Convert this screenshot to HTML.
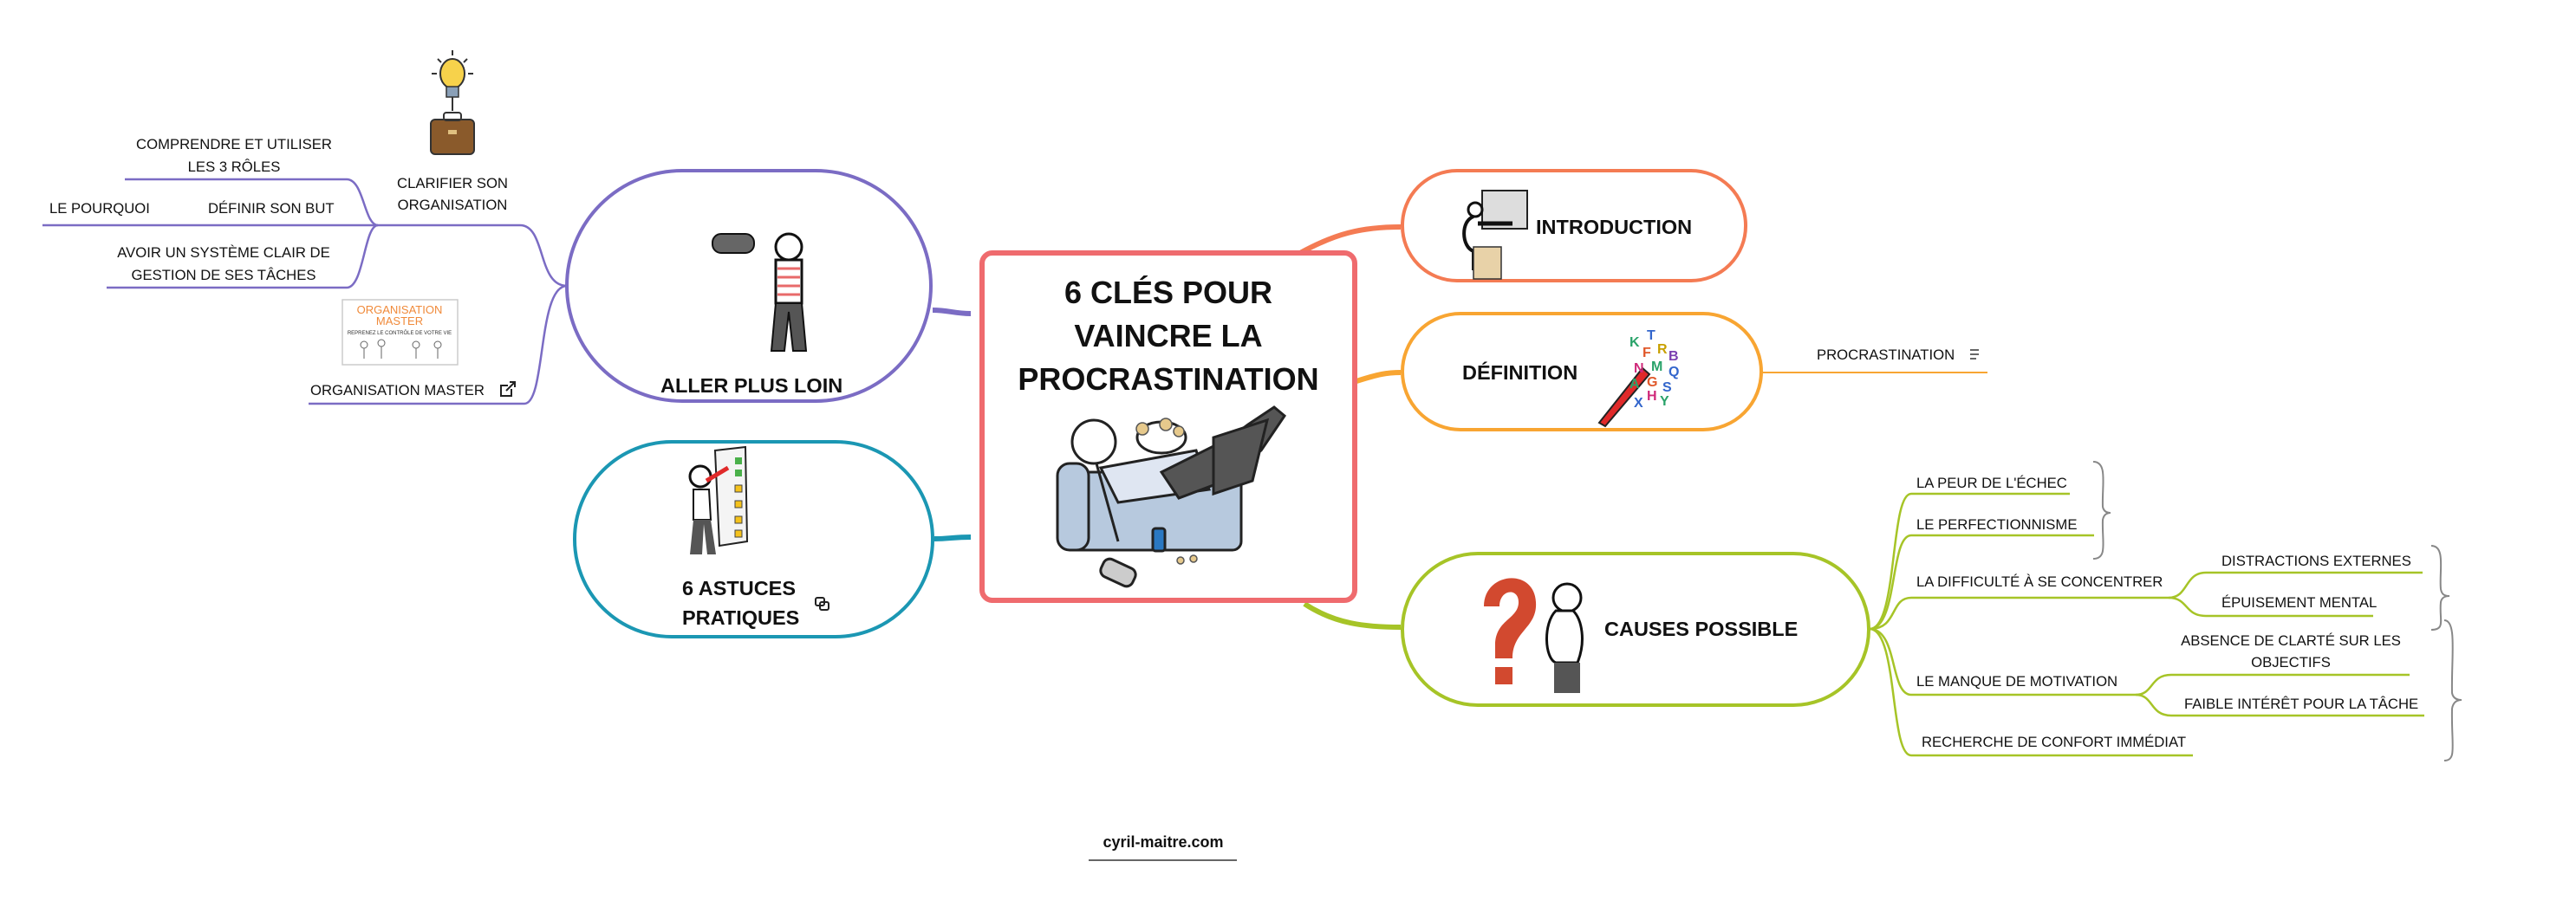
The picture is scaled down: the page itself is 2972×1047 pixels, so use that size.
<!DOCTYPE html>
<html><head><meta charset="utf-8"><style>
html,body{margin:0;padding:0;background:#fff;}
svg{display:block;}
text{font-family:"Liberation Sans",sans-serif;fill:#111;}
.b{font-size:16.7px;}
.n{font-size:23.5px;font-weight:bold;}
</style></head><body>
<svg width="2972" height="1047" viewBox="0 0 2972 1047" xmlns="http://www.w3.org/2000/svg">
<path d="M1120,362 C1100,362 1095,358 1076,358" stroke="#7b6cc4" stroke-width="6" fill="none"/>
<path d="M1120,620 C1100,620 1095,622 1078,622" stroke="#1b97b3" stroke-width="6" fill="none"/>
<path d="M1500,292 C1540,270 1570,262 1616,262" stroke="#f47b53" stroke-width="6" fill="none"/>
<path d="M1565,440 C1590,432 1600,430 1616,430" stroke="#f8a532" stroke-width="6" fill="none"/>
<path d="M1505,697 C1540,720 1575,724 1616,724" stroke="#a6c427" stroke-width="6" fill="none"/>

<rect x="1133" y="292" width="430" height="401" rx="12" fill="#fff" stroke="#ef6b6e" stroke-width="6"/>
<text x="1348" y="350" class="n" text-anchor="middle" style="font-size:36px">6 CLÉS POUR</text>
<text x="1348" y="400" class="n" text-anchor="middle" style="font-size:36px">VAINCRE LA</text>
<text x="1348" y="450" class="n" text-anchor="middle" style="font-size:36px">PROCRASTINATION</text>
<g stroke="#222" stroke-width="3">
<rect x="1232" y="545" width="200" height="90" rx="10" fill="#b7c9de"/>
<rect x="1220" y="535" width="36" height="100" rx="14" fill="#b7c9de"/>
<path d="M1270,540 L1380,520 L1395,565 L1290,580 Z" fill="#dfe6f2"/>
<path d="M1340,545 L1420,505 L1440,490 L1470,470 L1482,480 L1455,520 L1400,560 L1360,575 Z" fill="#555"/>
<path d="M1400,505 L1462,485 L1445,555 L1400,570 Z" fill="#555"/>
<circle cx="1262" cy="510" r="25" fill="#fff"/>
<ellipse cx="1340" cy="505" rx="28" ry="18" fill="#fff"/>
<rect x="1330" y="610" width="14" height="26" rx="3" fill="#2a78c2"/>
<rect x="1270" y="650" width="40" height="22" rx="8" fill="#ccc" transform="rotate(25 1290 661)"/>
<path d="M1265,535 L1290,625" fill="none"/>
</g>
<g fill="#e6c98c" stroke="#555" stroke-width="1.5"><circle cx="1318" cy="495" r="7"/><circle cx="1345" cy="490" r="7"/><circle cx="1360" cy="498" r="6"/><circle cx="1362" cy="647" r="4"/><circle cx="1377" cy="645" r="4"/></g>

<rect x="1618" y="197" width="396" height="127" rx="63" fill="#fff" stroke="#f47b53" stroke-width="4"/>
<rect x="1710" y="220" width="52" height="44" fill="#ddd" stroke="#222" stroke-width="2"/>
<circle cx="1702" cy="242" r="8" fill="#fff" stroke="#111" stroke-width="3"/>
<path d="M1700,250 C1685,255 1686,285 1700,290 L1700,312" stroke="#111" stroke-width="4" fill="none"/>
<path d="M1705,258 L1745,258" stroke="#111" stroke-width="5"/>
<rect x="1700" y="285" width="32" height="37" fill="#e8d2a8" stroke="#333" stroke-width="1.5"/>
<text x="1772" y="270" class="n">INTRODUCTION</text>

<rect x="1618" y="362" width="414" height="134" rx="67" fill="#fff" stroke="#f8a532" stroke-width="4"/>
<text x="1687" y="438" class="n">DÉFINITION</text>
<path d="M1845,488 L1895,425 L1903,432 L1852,492 Z" fill="#e02a2a" stroke="#222" stroke-width="2"/>
<g font-weight="bold" font-size="16">
<text x="1880" y="400" style="fill:#2aa36a">K</text><text x="1900" y="392" style="fill:#3366cc">T</text><text x="1895" y="412" style="fill:#e0582a">F</text><text x="1912" y="408" style="fill:#c8a000">R</text><text x="1925" y="416" style="fill:#7a3fb0">B</text><text x="1885" y="430" style="fill:#d02a7a">N</text><text x="1905" y="428" style="fill:#2aa36a">M</text><text x="1925" y="434" style="fill:#3366cc">Q</text><text x="1880" y="448" style="fill:#2aa36a">A</text><text x="1900" y="446" style="fill:#e0582a">G</text><text x="1918" y="452" style="fill:#3366cc">S</text><text x="1900" y="462" style="fill:#d02a7a">H</text><text x="1915" y="468" style="fill:#2aa36a">Y</text><text x="1885" y="470" style="fill:#3366cc">X</text>
</g>
<path d="M2032,430 H2293" stroke="#f8a532" stroke-width="2" fill="none"/>
<text x="2096" y="415" class="b">PROCRASTINATION</text>
<path d="M2273,404 h10 M2273,409 h10 M2273,414 h7" stroke="#333" stroke-width="1.5"/>

<rect x="1618" y="639" width="538" height="175" rx="87" fill="#fff" stroke="#a6c427" stroke-width="4"/>
<path d="M1712,700 C1712,660 1770,655 1772,695 C1774,725 1745,728 1745,760 L1725,760 L1725,745 C1725,715 1752,715 1752,695 C1752,678 1730,680 1730,700 Z" fill="#d2492f"/>
<rect x="1725" y="770" width="20" height="20" fill="#d2492f"/>
<circle cx="1808" cy="690" r="16" fill="#fff" stroke="#111" stroke-width="3"/>
<path d="M1795,705 C1780,720 1782,760 1795,765 L1820,765 C1830,740 1825,715 1815,705 Z" fill="#fff" stroke="#111" stroke-width="3"/>
<rect x="1793" y="765" width="30" height="35" fill="#555"/>
<text x="1851" y="734" class="n">CAUSES POSSIBLE</text>

<g stroke="#a6c427" stroke-width="2.5" fill="none">
<path d="M2157,726 C2190,726 2180,570 2205,570 H2388"/>
<path d="M2157,726 C2190,726 2180,618 2205,618 H2416"/>
<path d="M2157,726 C2190,726 2180,690 2205,690 H2502"/>
<path d="M2157,726 C2190,726 2180,802 2205,802 H2464"/>
<path d="M2157,726 C2190,726 2180,872 2205,872 H2530"/>
<path d="M2502,690 C2525,690 2520,661 2545,661 H2795"/>
<path d="M2502,690 C2525,690 2520,711 2545,711 H2738"/>
<path d="M2464,802 C2485,802 2480,779 2505,779 H2780"/>
<path d="M2464,802 C2485,802 2480,826 2505,826 H2797"/>
</g>
<text x="2211" y="563" class="b">LA PEUR DE L'ÉCHEC</text>
<text x="2211" y="611" class="b">LE PERFECTIONNISME</text>
<text x="2211" y="677" class="b">LA DIFFICULTÉ À SE CONCENTRER</text>
<text x="2563" y="653" class="b">DISTRACTIONS EXTERNES</text>
<text x="2563" y="701" class="b">ÉPUISEMENT MENTAL</text>
<text x="2211" y="792" class="b">LE MANQUE DE MOTIVATION</text>
<text x="2643" y="745" class="b" text-anchor="middle">ABSENCE DE CLARTÉ SUR LES</text>
<text x="2643" y="770" class="b" text-anchor="middle">OBJECTIFS</text>
<text x="2520" y="818" class="b">FAIBLE INTÉRÊT POUR LA TÂCHE</text>
<text x="2217" y="862" class="b">RECHERCHE DE CONFORT IMMÉDIAT</text>
<g stroke="#888" stroke-width="2" fill="none">
<path d="M2415,533 C2432,533 2425,560 2426,585 C2427,590 2430,592 2435,592 C2430,592 2427,595 2426,600 C2425,625 2432,645 2415,645"/>
<path d="M2805,630 C2822,630 2814,660 2816,680 C2817,686 2820,688 2826,688 C2820,688 2817,690 2816,695 C2814,715 2822,727 2805,727"/>
<path d="M2820,716 C2835,716 2828,760 2829,800 C2830,805 2833,808 2840,808 C2833,808 2830,812 2829,818 C2828,860 2835,878 2820,878"/>
</g>

<rect x="654" y="197" width="420" height="266" rx="133" fill="#fff" stroke="#7b6cc4" stroke-width="4"/>
<circle cx="910" cy="285" r="15" fill="#fff" stroke="#111" stroke-width="3"/>
<rect x="822" y="270" width="48" height="22" rx="10" fill="#666" stroke="#111" stroke-width="2"/>
<path d="M895,300 L925,300 L925,350 L895,350 Z" fill="#fff" stroke="#111" stroke-width="3"/>
<g stroke="#e86a6a" stroke-width="3"><path d="M897,310h26M897,320h26M897,330h26M897,340h26"/></g>
<path d="M895,350 L890,405 L905,405 L910,360 L915,405 L930,405 L925,350 Z" fill="#555" stroke="#111" stroke-width="2"/>
<text x="762" y="453" class="n">ALLER PLUS LOIN</text>

<rect x="663" y="510" width="413" height="225" rx="112" fill="#fff" stroke="#1b97b3" stroke-width="4"/>
<path d="M825,520 L860,516 L862,625 L830,630 Z" fill="#f4f4f4" stroke="#222" stroke-width="2"/>
<g fill="#f5c21b" stroke="#444" stroke-width="1"><rect x="848" y="560" width="8" height="8"/><rect x="848" y="578" width="8" height="8"/><rect x="848" y="596" width="8" height="8"/><rect x="848" y="612" width="8" height="8"/></g>
<rect x="848" y="528" width="8" height="8" fill="#4ab04a"/><rect x="848" y="542" width="8" height="8" fill="#4ab04a"/>
<circle cx="808" cy="550" r="12" fill="#fff" stroke="#111" stroke-width="3"/>
<path d="M800,565 L818,565 L820,600 L800,600 Z" fill="#fff" stroke="#111" stroke-width="2"/>
<path d="M800,600 L796,640 L810,640 L812,605 L816,640 L826,640 L820,600 Z" fill="#555"/>
<path d="M815,555 L840,540" stroke="#e02a2a" stroke-width="5"/>
<text x="787" y="687" class="n">6 ASTUCES</text>
<text x="787" y="721" class="n">PRATIQUES</text>
<g stroke="#222" stroke-width="2" fill="none"><rect x="941" y="690" width="10" height="9" rx="2"/><rect x="946" y="695" width="10" height="9" rx="2"/></g>

<g stroke="#7b6cc4" stroke-width="2.5" fill="none">
<path d="M654,330 C620,330 630,260 600,260 H436"/>
<path d="M654,330 C620,330 630,466 605,466 H356"/>
<path d="M436,260 C420,260 420,207 400,207 H144"/>
<path d="M436,260 H49"/>
<path d="M436,260 C420,260 420,332 400,332 H123"/>
</g>
<text x="522" y="217" class="b" text-anchor="middle">CLARIFIER SON</text>
<text x="522" y="242" class="b" text-anchor="middle">ORGANISATION</text>
<text x="270" y="172" class="b" text-anchor="middle">COMPRENDRE ET UTILISER</text>
<text x="270" y="198" class="b" text-anchor="middle">LES 3 RÔLES</text>
<text x="240" y="246" class="b">DÉFINIR SON BUT</text>
<text x="57" y="246" class="b">LE POURQUOI</text>
<text x="258" y="297" class="b" text-anchor="middle">AVOIR UN SYSTÈME CLAIR DE</text>
<text x="258" y="323" class="b" text-anchor="middle">GESTION DE SES TÂCHES</text>
<text x="358" y="456" class="b">ORGANISATION MASTER</text>
<g stroke="#222" stroke-width="2" fill="none"><path d="M586,445 h-8 v12 h12 v-8"/><path d="M584,451 L594,441 M588,441 h6 v6"/></g>
<ellipse cx="522" cy="85" rx="14" ry="17" fill="#f7d24b" stroke="#333" stroke-width="2"/>
<rect x="515" y="100" width="14" height="12" fill="#8aa0b8" stroke="#333" stroke-width="1.5"/>
<path d="M522,112 V128" stroke="#333" stroke-width="2"/>
<g stroke="#333" stroke-width="2"><path d="M522,58v6M505,68l4,4M539,68l-4,4M498,85h6M540,85h6"/></g>
<rect x="497" y="138" width="50" height="40" rx="5" fill="#8a5a2b" stroke="#333" stroke-width="2"/>
<rect x="512" y="130" width="20" height="9" rx="3" fill="none" stroke="#333" stroke-width="2"/>
<rect x="517" y="150" width="10" height="5" fill="#e0c080"/>
<rect x="395" y="346" width="133" height="75" fill="#fff" stroke="#ccc" stroke-width="1.5"/>
<text x="461" y="362" text-anchor="middle" style="font-size:13px;fill:#f08a3a">ORGANISATION</text>
<text x="461" y="375" text-anchor="middle" style="font-size:13px;fill:#f08a3a">MASTER</text>
<text x="461" y="386" text-anchor="middle" style="font-size:6px;fill:#333">REPRENEZ LE CONTRÔLE DE VOTRE VIE</text>
<g stroke="#666" stroke-width="1" fill="none"><circle cx="420" cy="398" r="4"/><circle cx="440" cy="396" r="4"/><circle cx="480" cy="398" r="4"/><circle cx="505" cy="398" r="4"/><path d="M420,402v12M440,400v14M480,402v12M505,402v12"/></g>

<text x="1342" y="978" text-anchor="middle" style="font-size:18px;font-weight:bold">cyril-maitre.com</text>
<path d="M1256,993 H1427" stroke="#666" stroke-width="2"/>
</svg>
</body></html>
